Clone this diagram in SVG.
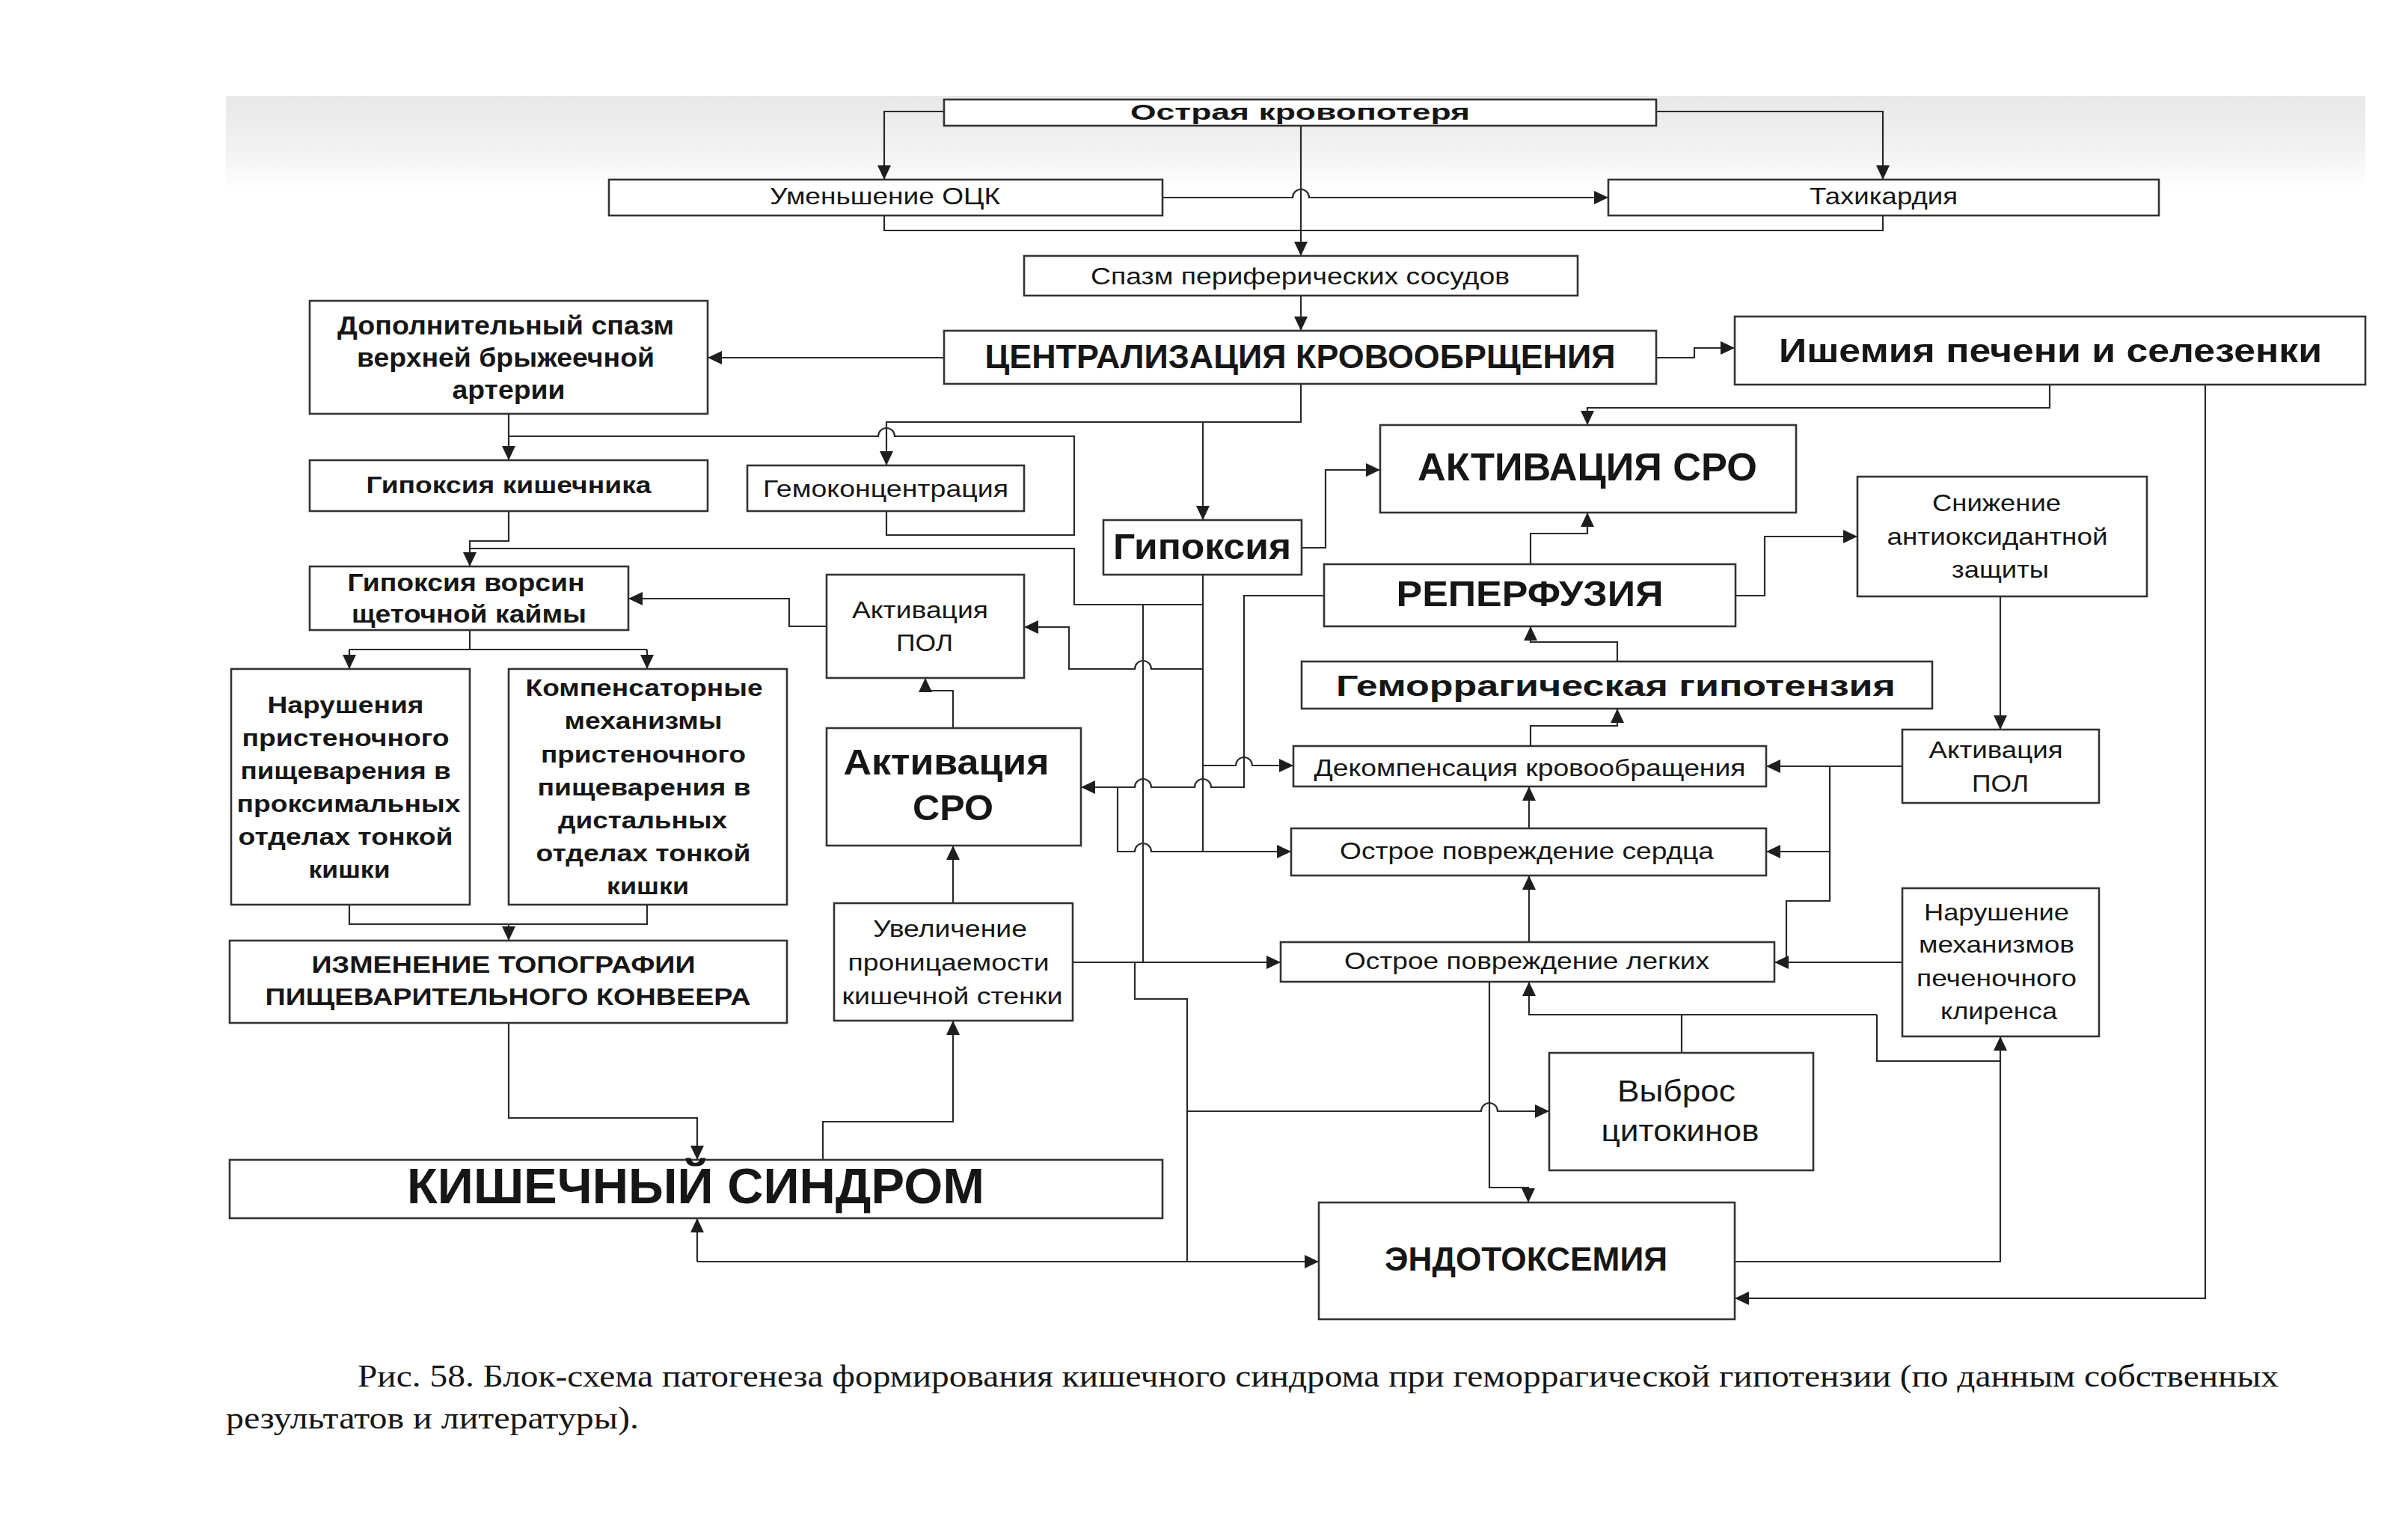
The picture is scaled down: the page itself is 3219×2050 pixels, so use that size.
<svg xmlns="http://www.w3.org/2000/svg" width="3219" height="2050" viewBox="0 0 3219 2050">
<defs>
<linearGradient id="band" x1="0" y1="0" x2="0" y2="1">
<stop offset="0" stop-color="#e8e8e8"/>
<stop offset="0.55" stop-color="#f1f1f1"/>
<stop offset="1" stop-color="#ffffff"/>
</linearGradient>
<marker id="ah" markerUnits="userSpaceOnUse" markerWidth="20" markerHeight="20" viewBox="0 0 20 20" refX="19" refY="10" orient="auto">
<path d="M0,1 L19,10 L0,19 z" fill="#1e1e1e"/>
</marker>
<style>
.b{fill:#fff;stroke:#333;stroke-width:2.6}
.c{fill:none;stroke:#2a2a2a;stroke-width:2.2}
.a{marker-end:url(#ah)}
text{font-family:"Liberation Sans",Arial,sans-serif;fill:#161616;text-anchor:middle}
.bd{font-weight:bold}
.cap{font-family:"Liberation Serif","Times New Roman",serif;text-anchor:start}
</style>
</defs>
<rect width="3219" height="2050" fill="#fff"/>
<rect x="302" y="128" width="2860" height="125" fill="url(#band)"/>

<g id="connectors">
<path class="c a" d="M1262,149 H1182 V240"/>
<path class="c a" d="M2214,149 H2517 V240"/>
<path class="c a" d="M1739,168 V342"/>
<path class="c a" d="M1554,264 H1728 A11,11 0 0 1 1750,264 H2150"/>
<path class="c" d="M1182,288 V308 H2517 V288"/>
<path class="c a" d="M1739,395 V442"/>
<path class="c a" d="M1262,478 H946"/>
<path class="c a" d="M2214,478 H2265 V465 H2319"/>
<path class="c a" d="M1739,513 V564 H1185 V622"/>
<path class="c a" d="M1608,564 V695"/>
<path class="c a" d="M680,553 V615"/>
<path class="c" d="M680,583 H1174 A11,11 0 0 1 1196,583 H1436 V715 H1185 V683"/>
<path class="c a" d="M680,683 V723 H628 V757"/>
<path class="c" d="M1608,768 V1138"/>
<path class="c" d="M1608,808 H1436 V733 H628"/>
<path class="c a" d="M1608,894 H1539 A11,11 0 0 0 1517,894 H1429 V838 H1369"/>
<path class="c a" d="M1608,1023 H1652 A11,11 0 0 1 1674,1023 H1729"/>
<path class="c a" d="M1740,732 H1772 V628 H1845"/>
<path class="c a" d="M2740,514 V545 H2122 V568"/>
<path class="c a" d="M2948,514 V1735 H2319"/>
<path class="c a" d="M2046,754 V713 H2122 V685"/>
<path class="c a" d="M2320,796 H2359 V717 H2483"/>
<path class="c a" d="M2674,797 V975"/>
<path class="c a" d="M2162,884 V858 H2046 V837"/>
<path class="c a" d="M2046,997 V970 H2162 V947"/>
<path class="c a" d="M2044,1107 V1051"/>
<path class="c a" d="M2044,1259 V1170"/>
<path class="c a" d="M2543,1024 H2361"/>
<path class="c" d="M2446,1024 V1204 H2388 V1286"/>
<path class="c a" d="M2446,1138 H2361"/>
<path class="c a" d="M2543,1286 H2372"/>
<path class="c a" d="M1770,796 H1663 V1052 H1619 A11,11 0 0 0 1597,1052 H1539 A11,11 0 0 0 1517,1052 H1445"/>
<path class="c a" d="M1494,1052 V1138 H1517 A11,11 0 0 1 1539,1138 H1726"/>
<path class="c" d="M1528,808 V1286"/>
<path class="c a" d="M1434,1286 H1712"/>
<path class="c" d="M1517,1286 V1335 H1587 V1686"/>
<path class="c a" d="M1587,1485 H1980 A11,11 0 0 1 2002,1485 H2071"/>
<path class="c a" d="M1991,1312 V1587 H2043 V1607"/>
<path class="c a" d="M2509,1356 H2044 V1312"/>
<path class="c" d="M2248,1407 V1356"/>
<path class="c" d="M2509,1356 V1418 H2674"/>
<path class="c a" d="M2319,1686 H2674 V1385"/>
<path class="c a" d="M932,1686 H1763"/>
<path class="c a" d="M932,1686 V1628"/>
<path class="c a" d="M680,1367 V1494 H932 V1550"/>
<path class="c a" d="M1100,1550 V1499 H1274 V1364"/>
<path class="c a" d="M1274,1207 V1130"/>
<path class="c a" d="M1274,973 V923 H1237 V906"/>
<path class="c a" d="M1105,837 H1055 V800 H840"/>
<path class="c" d="M628,842 V868 M467,868 H865"/>
<path class="c a" d="M467,868 V894"/>
<path class="c a" d="M865,868 V894"/>
<path class="c" d="M467,1209 V1235 H865 V1209"/>
<path class="c a" d="M680,1235 V1257"/>
</g>

<g id="n-ostraya"><rect class="b" x="1262" y="133" width="952" height="35"/>
<text class="bd" x="1738" y="160" font-size="29" textLength="454" lengthAdjust="spacingAndGlyphs">Острая кровопотеря</text></g>
<g id="n-umensh"><rect class="b" x="814" y="240" width="740" height="48"/>
<text x="1183" y="273" font-size="32" textLength="308" lengthAdjust="spacingAndGlyphs">Уменьшение ОЦК</text></g>
<g id="n-tahi"><rect class="b" x="2150" y="240" width="736" height="48"/>
<text x="2518" y="273" font-size="32" textLength="198" lengthAdjust="spacingAndGlyphs">Тахикардия</text></g>
<g id="n-spazm"><rect class="b" x="1369" y="342" width="740" height="53"/>
<text x="1738" y="380" font-size="31" textLength="560" lengthAdjust="spacingAndGlyphs">Спазм периферических сосудов</text></g>
<g id="n-central"><rect class="b" x="1262" y="442" width="952" height="71"/>
<text class="bd" x="1738" y="492" font-size="45" textLength="843" lengthAdjust="spacingAndGlyphs">ЦЕНТРАЛИЗАЦИЯ КРОВООБРЩЕНИЯ</text></g>
<g id="n-dopoln"><rect class="b" x="414" y="402" width="532" height="151"/>
<text class="bd" x="676" y="447" font-size="35" textLength="450" lengthAdjust="spacingAndGlyphs">Дополнительный спазм</text>
<text class="bd" x="676" y="490" font-size="35" textLength="398" lengthAdjust="spacingAndGlyphs">верхней брыжеечной</text>
<text class="bd" x="680" y="533" font-size="35" textLength="151" lengthAdjust="spacingAndGlyphs">артерии</text></g>
<g id="n-ishemia"><rect class="b" x="2319" y="423" width="843" height="91"/>
<text class="bd" x="2741" y="484" font-size="45" textLength="726" lengthAdjust="spacingAndGlyphs">Ишемия печени и селезенки</text></g>
<g id="n-gipkish"><rect class="b" x="414" y="615" width="532" height="68"/>
<text class="bd" x="680" y="659" font-size="31" textLength="381" lengthAdjust="spacingAndGlyphs">Гипоксия кишечника</text></g>
<g id="n-gemokonc"><rect class="b" x="999" y="622" width="370" height="61"/>
<text x="1184" y="664" font-size="32" textLength="328" lengthAdjust="spacingAndGlyphs">Гемоконцентрация</text></g>
<g id="n-aktsro-big"><rect class="b" x="1845" y="568" width="556" height="117"/>
<text class="bd" x="2122" y="642" font-size="51" textLength="454" lengthAdjust="spacingAndGlyphs">АКТИВАЦИЯ СРО</text></g>
<g id="n-gipoksia"><rect class="b" x="1475" y="695" width="265" height="73"/>
<text class="bd" x="1607" y="747" font-size="49" textLength="238" lengthAdjust="spacingAndGlyphs">Гипоксия</text></g>
<g id="n-snizh"><rect class="b" x="2483" y="637" width="387" height="160"/>
<text x="2669" y="683" font-size="32" textLength="172" lengthAdjust="spacingAndGlyphs">Снижение</text>
<text x="2670" y="728" font-size="32" textLength="295" lengthAdjust="spacingAndGlyphs">антиоксидантной</text>
<text x="2674" y="772" font-size="32" textLength="130" lengthAdjust="spacingAndGlyphs">защиты</text></g>
<g id="n-reperf"><rect class="b" x="1770" y="754" width="550" height="83"/>
<text class="bd" x="2045" y="810" font-size="48" textLength="357" lengthAdjust="spacingAndGlyphs">РЕПЕРФУЗИЯ</text></g>
<g id="n-gipvorsin"><rect class="b" x="414" y="757" width="426" height="85"/>
<text class="bd" x="623" y="790" font-size="33" textLength="317" lengthAdjust="spacingAndGlyphs">Гипоксия ворсин</text>
<text class="bd" x="627" y="832" font-size="33" textLength="314" lengthAdjust="spacingAndGlyphs">щеточной каймы</text></g>
<g id="n-aktpol-left"><rect class="b" x="1105" y="768" width="264" height="138"/>
<text x="1230" y="826" font-size="31" textLength="182" lengthAdjust="spacingAndGlyphs">Активация</text>
<text x="1236" y="870" font-size="31" textLength="76" lengthAdjust="spacingAndGlyphs">ПОЛ</text></g>
<g id="n-gemorr"><rect class="b" x="1740" y="884" width="843" height="63"/>
<text class="bd" x="2160" y="930" font-size="39" textLength="748" lengthAdjust="spacingAndGlyphs">Геморрагическая гипотензия</text></g>
<g id="n-narush"><rect class="b" x="309" y="894" width="319" height="315"/>
<text class="bd" x="462" y="953" font-size="32" textLength="209" lengthAdjust="spacingAndGlyphs">Нарушения</text>
<text class="bd" x="462" y="997" font-size="32" textLength="277" lengthAdjust="spacingAndGlyphs">пристеночного</text>
<text class="bd" x="462" y="1041" font-size="32" textLength="281" lengthAdjust="spacingAndGlyphs">пищеварения в</text>
<text class="bd" x="466" y="1085" font-size="32" textLength="299" lengthAdjust="spacingAndGlyphs">проксимальных</text>
<text class="bd" x="462" y="1129" font-size="32" textLength="287" lengthAdjust="spacingAndGlyphs">отделах тонкой</text>
<text class="bd" x="467" y="1173" font-size="32" textLength="109" lengthAdjust="spacingAndGlyphs">кишки</text></g>
<g id="n-kompens"><rect class="b" x="680" y="894" width="372" height="315"/>
<text class="bd" x="861" y="930" font-size="32" textLength="317" lengthAdjust="spacingAndGlyphs">Компенсаторные</text>
<text class="bd" x="860" y="974" font-size="32" textLength="211" lengthAdjust="spacingAndGlyphs">механизмы</text>
<text class="bd" x="860" y="1019" font-size="32" textLength="274" lengthAdjust="spacingAndGlyphs">пристеночного</text>
<text class="bd" x="861" y="1063" font-size="32" textLength="285" lengthAdjust="spacingAndGlyphs">пищеварения в</text>
<text class="bd" x="859" y="1107" font-size="32" textLength="226" lengthAdjust="spacingAndGlyphs">дистальных</text>
<text class="bd" x="860" y="1151" font-size="32" textLength="287" lengthAdjust="spacingAndGlyphs">отделах тонкой</text>
<text class="bd" x="866" y="1195" font-size="32" textLength="110" lengthAdjust="spacingAndGlyphs">кишки</text></g>
<g id="n-aktsro-left"><rect class="b" x="1105" y="973" width="340" height="157"/>
<text class="bd" x="1265" y="1035" font-size="48" textLength="275" lengthAdjust="spacingAndGlyphs">Активация</text>
<text class="bd" x="1274" y="1096" font-size="48" textLength="108" lengthAdjust="spacingAndGlyphs">СРО</text></g>
<g id="n-dekomp"><rect class="b" x="1729" y="997" width="632" height="54"/>
<text x="2045" y="1037" font-size="32" textLength="577" lengthAdjust="spacingAndGlyphs">Декомпенсация кровообращения</text></g>
<g id="n-aktpol-right"><rect class="b" x="2543" y="975" width="263" height="98"/>
<text x="2668" y="1013" font-size="31" textLength="179" lengthAdjust="spacingAndGlyphs">Активация</text>
<text x="2674" y="1058" font-size="31" textLength="76" lengthAdjust="spacingAndGlyphs">ПОЛ</text></g>
<g id="n-serdca"><rect class="b" x="1726" y="1107" width="635" height="63"/>
<text x="2041" y="1148" font-size="32" textLength="500" lengthAdjust="spacingAndGlyphs">Острое повреждение сердца</text></g>
<g id="n-izmen"><rect class="b" x="307" y="1257" width="745" height="110"/>
<text class="bd" x="673" y="1300" font-size="32" textLength="513" lengthAdjust="spacingAndGlyphs">ИЗМЕНЕНИЕ ТОПОГРАФИИ</text>
<text class="bd" x="679" y="1343" font-size="32" textLength="649" lengthAdjust="spacingAndGlyphs">ПИЩЕВАРИТЕЛЬНОГО КОНВЕЕРА</text></g>
<g id="n-uvelich"><rect class="b" x="1115" y="1207" width="319" height="157"/>
<text x="1270" y="1252" font-size="31" textLength="206" lengthAdjust="spacingAndGlyphs">Увеличение</text>
<text x="1268" y="1297" font-size="31" textLength="269" lengthAdjust="spacingAndGlyphs">проницаемости</text>
<text x="1273" y="1342" font-size="31" textLength="295" lengthAdjust="spacingAndGlyphs">кишечной стенки</text></g>
<g id="n-klirens"><rect class="b" x="2543" y="1187" width="263" height="198"/>
<text x="2669" y="1230" font-size="32" textLength="194" lengthAdjust="spacingAndGlyphs">Нарушение</text>
<text x="2669" y="1273" font-size="32" textLength="208" lengthAdjust="spacingAndGlyphs">механизмов</text>
<text x="2669" y="1318" font-size="32" textLength="214" lengthAdjust="spacingAndGlyphs">печеночного</text>
<text x="2672" y="1362" font-size="32" textLength="156" lengthAdjust="spacingAndGlyphs">клиренса</text></g>
<g id="n-legkih"><rect class="b" x="1712" y="1259" width="660" height="53"/>
<text x="2041" y="1295" font-size="32" textLength="488" lengthAdjust="spacingAndGlyphs">Острое повреждение легких</text></g>
<g id="n-vybros"><rect class="b" x="2071" y="1407" width="353" height="157"/>
<text x="2241" y="1472" font-size="40" textLength="158" lengthAdjust="spacingAndGlyphs">Выброс</text>
<text x="2246" y="1525" font-size="40" textLength="211" lengthAdjust="spacingAndGlyphs">цитокинов</text></g>
<g id="n-kishech"><rect class="b" x="307" y="1550" width="1247" height="78"/>
<text class="bd" x="930" y="1608" font-size="67" textLength="772" lengthAdjust="spacingAndGlyphs">КИШЕЧНЫЙ СИНДРОМ</text></g>
<g id="n-endotox"><rect class="b" x="1763" y="1607" width="556" height="156"/>
<text class="bd" x="2040" y="1698" font-size="44" textLength="378" lengthAdjust="spacingAndGlyphs">ЭНДОТОКСЕМИЯ</text></g>

<g id="caption">
<text class="cap" x="478" y="1853" font-size="42" textLength="2568" lengthAdjust="spacingAndGlyphs">Рис. 58. Блок-схема патогенеза формирования кишечного синдрома при геморрагической гипотензии (по данным собственных</text>
<text class="cap" x="302" y="1909" font-size="42" textLength="552" lengthAdjust="spacingAndGlyphs">результатов и литературы).</text>
</g>
</svg>
